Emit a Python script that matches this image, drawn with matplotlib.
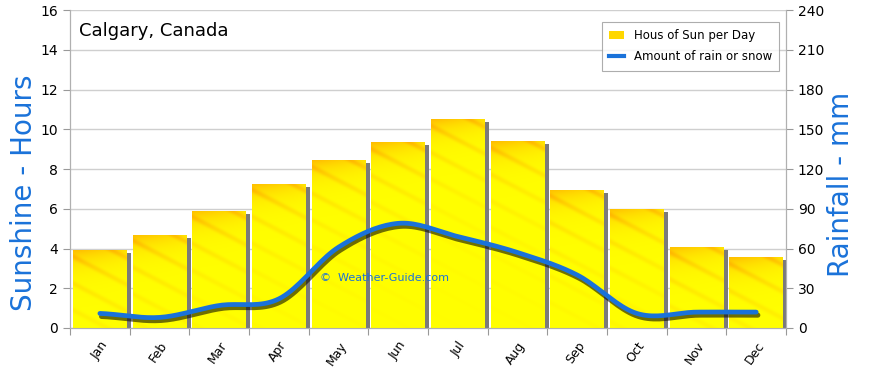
import numpy as np
import matplotlib.pyplot as plt
from matplotlib import patheffects as pe
from matplotlib.patches import Patch, Rectangle
from matplotlib.lines import Line2D

months = ["Jan", "Feb", "Mar", "Apr", "May", "Jun",
          "Jul", "Aug", "Sep", "Oct", "Nov", "Dec"]
sun_hours = [3.9, 4.7, 5.9, 7.25, 8.45, 9.35, 10.5, 9.4, 6.95, 6.0, 4.1, 3.55]
rain_mm = [11, 8, 17, 22, 61, 79, 69, 57, 40, 11, 12, 12]

BLUE = "#1a72d9"


def smooth(y, n=20):
    # catmull-rom curve through the monthly points, only for drawing
    y = np.asarray(y, float)
    p = np.concatenate([[y[0]], y, [y[-1]]])
    xs, ys = [], []
    for i in range(len(y) - 1):
        p0, p1, p2, p3 = p[i], p[i + 1], p[i + 2], p[i + 3]
        t = np.linspace(0, 1, n, endpoint=False)
        yy = 0.5 * (2 * p1 + (-p0 + p2) * t + (2 * p0 - 5 * p1 + 4 * p2 - p3) * t ** 2
                    + (-p0 + 3 * p1 - 3 * p2 + p3) * t ** 3)
        xs.append(i + t)
        ys.append(yy)
    xs.append([len(y) - 1])
    ys.append([y[-1]])
    return np.concatenate(xs), np.concatenate(ys)


fig = plt.figure(figsize=(8.7, 3.68), dpi=100)
ax = fig.add_axes([0.0805, 0.1087, 0.823, 0.864])
x = np.arange(len(months))
w = 0.9

ax.set_xlim(-0.5, 11.5)
ax.set_ylim(0, 16)
ax.set_yticks(range(0, 17, 2))
ax.grid(axis="y", color="#cfcfcf", lw=1, zorder=0)
ax.set_axisbelow(True)

# shadows on the right side of bars
for xi, h in zip(x, sun_hours):
    ax.add_patch(Rectangle((xi + w / 2, 0), 0.07, h - 0.15,
                           facecolor="#7a7a7a", edgecolor="none", zorder=2))

bars = ax.bar(x, sun_hours, width=w, color="#ffff00", zorder=3)

# streaky orange texture in the bars
yy, xx = np.mgrid[0:1:200j, 0:1:60j]
for b, h in zip(bars, sun_hours):
    depth = (1 - yy) * h  # hours below the top
    band = np.exp(-depth / 0.7) * 0.75 * (1.1 - 0.6 * xx)
    streak = 0.4 * np.clip(np.sin((depth * 1.8 - xx * 2.5) * 2.6), 0, 1) ** 4 * np.exp(-depth / 3.5)
    a = np.clip(band + streak, 0, 0.9)
    img = np.zeros(yy.shape + (3,))
    img[..., 0] = 1.0
    img[..., 1] = 1.0 - 0.32 * a
    img[..., 2] = 0.0
    im = ax.imshow(img, extent=(b.get_x(), b.get_x() + w, 0, h), origin="lower",
                   aspect="auto", zorder=3.5, interpolation="bilinear")
    im.set_clip_path(b)
ax.set_xlim(-0.5, 11.5)
ax.set_ylim(0, 16)

ax.set_xticks(np.arange(-0.5, 12, 1))
ax.set_xticklabels([])
ax.set_xticks(x, minor=True)
ax.set_xticklabels(months, minor=True, rotation=55, fontsize=9, ha="right",
                   rotation_mode="anchor")
ax.tick_params(axis="x", which="minor", length=0, pad=8)
ax.tick_params(axis="x", which="major", length=5, color="#999999")
ax.tick_params(axis="y", length=5, color="#999999", labelsize=10)
ax.spines["top"].set_visible(False)
for s in ["left", "right", "bottom"]:
    ax.spines[s].set_color("#b0b0b0")

ax2 = ax.twinx()
ax2.set_ylim(0, 240)
ax2.set_yticks(range(0, 241, 30))
ax2.tick_params(axis="y", length=5, color="#999999", labelsize=10)
ax2.spines["top"].set_visible(False)
for s in ["left", "right", "bottom"]:
    ax2.spines[s].set_color("#b0b0b0")

fig.text(0.0276, 0.4755, "Sunshine - Hours", color=BLUE, fontsize=20,
         rotation=90, ha="center", va="center")
fig.text(0.9667, 0.5, "Rainfall - mm", color=BLUE, fontsize=20,
         rotation=90, ha="center", va="center")

sx, sy = smooth(rain_mm)
ax2.plot(sx, sy, color=BLUE, lw=3.4, solid_capstyle="round", zorder=5,
         path_effects=[pe.SimpleLineShadow(offset=(1.2, -2.2), shadow_color="#101000",
                                           alpha=0.6, linewidth=3.6),
                       pe.Normal()])

ax.text(0.012, 0.935, "Calgary, Canada", transform=ax.transAxes, fontsize=13,
        va="center", ha="left")
ax2.text(4.77, 37.7, "\u00a9  Weather-Guide.com", color=BLUE, fontsize=8,
         va="center", ha="center", zorder=6)

handles = [Patch(facecolor="#ffd700", edgecolor="none"),
           Line2D([0], [0], color=BLUE, lw=3)]
leg = ax2.legend(handles, ["Hous of Sun per Day", "Amount of rain or snow"],
                 loc="upper right", bbox_to_anchor=(0.99, 0.962), fontsize=8.5,
                 borderaxespad=0, frameon=True, fancybox=False, edgecolor="#999999",
                 handlelength=1.3, borderpad=0.6, labelspacing=0.7)
leg.get_frame().set_linewidth(0.8)

fig.savefig("out.png", dpi=100)
